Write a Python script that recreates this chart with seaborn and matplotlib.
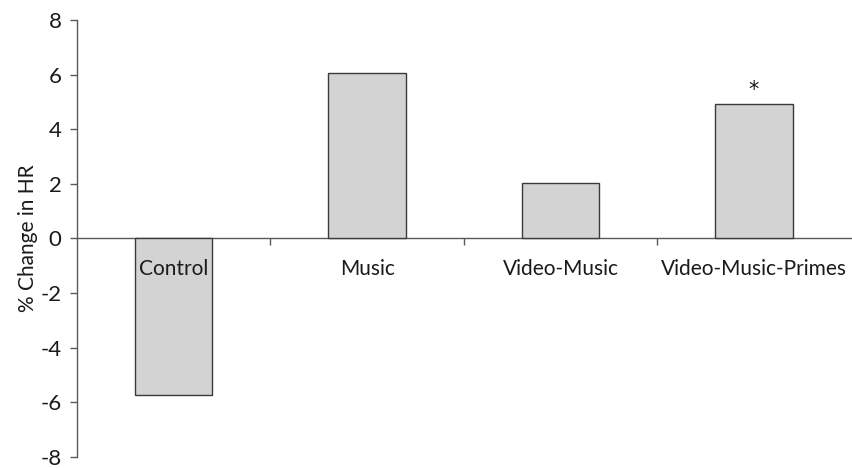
import matplotlib
matplotlib.use("Agg")
import matplotlib.pyplot as plt
import seaborn as sns
import pandas as pd

categories = ["Control", "Music", "Video-Music", "Video-Music-Primes"]
values = [-5.72, 6.05, 2.04, 4.91]
significance = ["", "", "", "*"]
yticks = [-8, -6, -4, -2, 0, 2, 4, 6, 8]

sns.set_theme(style="white")
plt.rcParams['font.family'] = ['Lato', 'DejaVu Sans']

df = pd.DataFrame({"Condition": categories, "Change": values})

fig = plt.figure(figsize=(8.53, 4.68), dpi=100)
ax = fig.add_axes([0.0903, 0.024, 0.907, 0.933])

sns.barplot(data=df, x="Condition", y="Change", order=categories,
            color="#D3D3D3", saturation=1, width=0.4,
            edgecolor="#3a3a3a", linewidth=1.0, ax=ax)
ax.set_axisbelow(False)

ax.set_xlim(-0.5, len(categories) - 0.5)
ax.set_ylim(-8, 8)
ax.set_yticks(yticks)
ax.set_yticklabels([str(t) for t in yticks])

for s in ["top", "right"]:
    ax.spines[s].set_visible(False)
ax.spines["bottom"].set_position(("data", 0))
for s in ["left", "bottom"]:
    ax.spines[s].set_color("#595959")
    ax.spines[s].set_linewidth(1.0)
    ax.spines[s].set_zorder(0.5)

ax.set_xticks(range(len(categories)))
ax.set_xticklabels(categories)
ax.set_xticks([i + 0.5 for i in range(len(categories) - 1)], minor=True)
ax.tick_params(axis="x", which="major", length=0, pad=15, labelsize=15, colors="#1a1a1a")
ax.tick_params(axis="x", which="minor", direction="out", length=5, width=1, color="#595959", bottom=True)
ax.tick_params(axis="y", direction="out", length=5, width=1, color="#595959", left=True,
               labelsize=16, colors="#1a1a1a", pad=6)

ax.set_xlabel("")
ax.set_ylabel("% Change in HR", fontsize=15, color="#1a1a1a", labelpad=2)

for i, (v, s) in enumerate(zip(values, significance)):
    if s:
        ax.annotate(s, xy=(i, v), xytext=(0, 3), textcoords="offset points",
                    ha="center", va="bottom", fontsize=15, color="#1a1a1a",
                    family="DejaVu Sans")

fig.savefig("out.png", dpi=100)
